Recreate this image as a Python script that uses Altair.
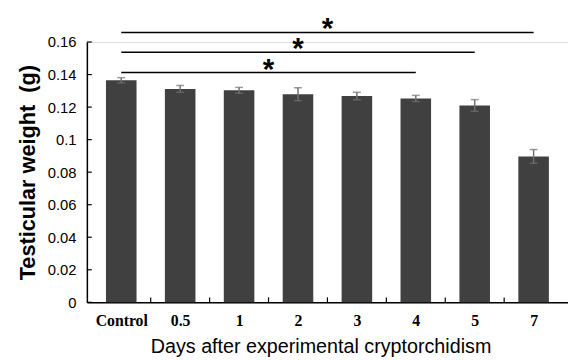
import altair as alt
import pandas as pd

categories = ["Control", "0.5", "1", "2", "3", "4", "5", "7"]
means = [0.1365, 0.1312, 0.1303, 0.1279, 0.1268, 0.1253, 0.1210, 0.0897]
errors = [0.0016, 0.0021, 0.0018, 0.0040, 0.0023, 0.0019, 0.0036, 0.0042]
y_ticks = [0, 0.02, 0.04, 0.06, 0.08, 0.1, 0.12, 0.14, 0.16]
sig_start = ["Control", "Control", "Control"]
sig_end = ["4", "5", "7"]
sig_level = [0.1412, 0.1537, 0.1659]

idx = {c: i for i, c in enumerate(categories)}
bars_df = pd.DataFrame({
    "cat": categories,
    "pos": [i + 0.5 for i in range(len(categories))],
    "mean": means,
    "lo": [m - e for m, e in zip(means, errors)],
    "hi": [m + e for m, e in zip(means, errors)],
})
sig_df = pd.DataFrame({
    "x1": [idx[s] + 0.5 for s in sig_start],
    "x2": [idx[e] + 0.5 for e in sig_end],
    "y": sig_level,
})
sig_df["xm"] = (sig_df["x1"] + sig_df["x2"]) / 2
xtick_df = pd.DataFrame({"b": list(range(1, len(categories)))})
ytick_df = pd.DataFrame({"v": y_ticks})

xscale = alt.Scale(domain=[0, len(categories)], nice=False, zero=False)
yscale = alt.Scale(domain=[0, 0.16], nice=False, zero=True)

label_list = "[" + ",".join("'" + c + "'" for c in categories) + "]"
y_label_list = "[" + ",".join("'" + format(v, "g") + "'" for v in y_ticks) + "]"

X_TITLE = "Days after experimental cryptorchidism"
Y_TITLE = "Testicular weight\u00a0 (g)"

x_axis = alt.Axis(
    values=[i + 0.5 for i in range(len(categories))],
    labelExpr=label_list + "[floor(datum.value)]",
    labelFont="Liberation Serif", labelFontWeight="bold", labelFontSize=16,
    labelColor="black", labelPadding=11, labelOverlap=False, labelFlush=False,
    titleFont="Liberation Sans", titleFontWeight="normal", titleFontSize=20,
    titleColor="black", titlePadding=8, titleX=237,
    ticks=False, tickSize=0, grid=False,
    domainColor="black", domainWidth=1.5,
)
y_axis = alt.Axis(
    values=y_ticks,
    labelExpr=y_label_list + "[round(datum.value * 50)]",
    labelFont="Liberation Sans", labelFontSize=15, labelColor="black",
    labelPadding=11, labelOverlap=False, labelFlush=False,
    titleFont="Liberation Sans", titleFontWeight="bold", titleFontSize=22,
    titleColor="black", titlePadding=8,
    ticks=False, tickSize=0, grid=False,
    domainColor="black", domainWidth=1.5,
)

def X(field):
    return alt.X(field, scale=xscale, title=X_TITLE, axis=x_axis)

def Y(field):
    return alt.Y(field, scale=yscale, title=Y_TITLE, axis=y_axis)

bars = alt.Chart(bars_df).mark_bar(size=31, color="#404040").encode(
    x=X("pos:Q"), y=Y("mean:Q"),
)
err = alt.Chart(bars_df).mark_rule(color="#707070", strokeWidth=1.5).encode(
    x=X("pos:Q"), y=Y("lo:Q"), y2="hi:Q",
)
cap_hi = alt.Chart(bars_df).mark_tick(orient="horizontal", size=8, thickness=1.5, color="#707070").encode(
    x=X("pos:Q"), y=Y("hi:Q"),
)
cap_lo = alt.Chart(bars_df).mark_tick(orient="horizontal", size=8, thickness=1.5, color="#707070").encode(
    x=X("pos:Q"), y=Y("lo:Q"),
)
sig_lines = alt.Chart(sig_df).mark_rule(color="black", strokeWidth=1.5).encode(
    x=X("x1:Q"), x2="x2:Q", y=Y("y:Q"),
)
stars = alt.Chart(sig_df).mark_text(
    text="*", font="Liberation Sans", fontWeight="bold", fontSize=30,
    color="black", baseline="alphabetic", align="center", dy=6,
).encode(
    x=X("xm:Q"), y=Y("y:Q"),
)
xticks = alt.Chart(xtick_df).mark_rule(color="black", strokeWidth=1.2).encode(
    x=X("b:Q"), y=alt.value(264), y2=alt.value(259),
)
yticks = alt.Chart(ytick_df).mark_rule(color="black", strokeWidth=1.2).encode(
    y=Y("v:Q"), x=alt.value(0), x2=alt.value(5),
)

chart = alt.layer(bars, err, cap_hi, cap_lo, sig_lines, stars, xticks, yticks).properties(
    width=488,
    height=264,
    autosize=alt.AutoSizeParams(type="none"),
    padding={"left": 80, "top": 32, "right": 0, "bottom": 56},
).configure_view(stroke=None).configure(background="white")

chart.save("out.html", embed_options={"renderer": "svg", "actions": False})
